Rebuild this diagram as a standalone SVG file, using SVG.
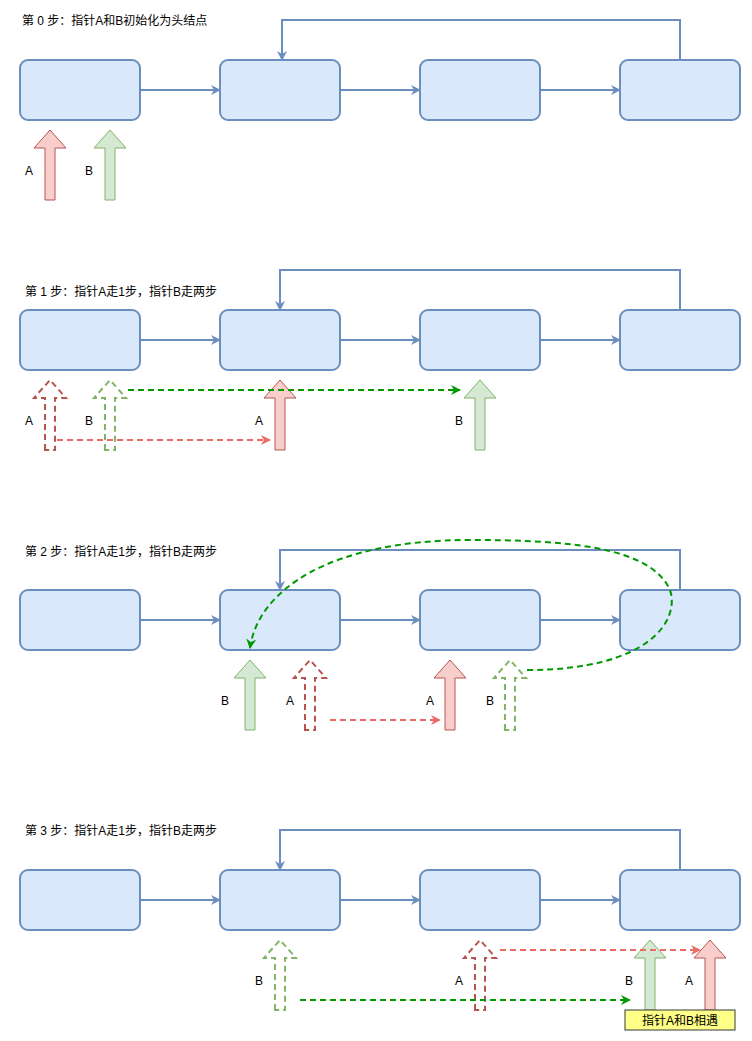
<svg xmlns="http://www.w3.org/2000/svg" xmlns:xlink="http://www.w3.org/1999/xlink" width="752" height="1041" viewBox="0 0 752 1041">
<style>
.n{fill:#dae8fc;stroke:#6c8ebf;stroke-width:2}
.c{fill:none;stroke:#6c8ebf;stroke-width:2}
.t{font-family:"Liberation Sans","Noto Sans CJK SC",sans-serif;font-size:12px;fill:#000}
.ra{fill:#f8cecc;stroke:#b85450;stroke-width:1}
.ga{fill:#d5e8d4;stroke:#82b366;stroke-width:1}
.rd{fill:#fff;stroke:#b85450;stroke-width:2;stroke-dasharray:6 4}
.gd{fill:#fff;stroke:#82b366;stroke-width:2;stroke-dasharray:6 4}
.rl{fill:none;stroke:#ea6b66;stroke-width:2;stroke-dasharray:6 4}
.gl{fill:none;stroke:#009900;stroke-width:2;stroke-dasharray:6 4}
</style>
<defs>
<path id="ba" d="M-5,70 L-5,18 L-16,18 L0,0 L16,18 L5,18 L5,70 Z"/>
<marker id="mb" markerWidth="10" markerHeight="10" refX="9" refY="5" orient="auto" markerUnits="userSpaceOnUse"><path d="M0,0 L10,5 L0,10 L3,5 Z" fill="#6c8ebf"/></marker>
<marker id="mr" markerWidth="10" markerHeight="10" refX="9" refY="5" orient="auto" markerUnits="userSpaceOnUse"><path d="M0,0 L10,5 L0,10 L3,5 Z" fill="#ea6b66"/></marker>
<marker id="mg" markerWidth="10" markerHeight="10" refX="9" refY="5" orient="auto" markerUnits="userSpaceOnUse"><path d="M0,0 L10,5 L0,10 L3,5 Z" fill="#009900"/></marker>
</defs>
<rect width="752" height="1041" fill="#fff"/>
<g id="titles" class="t">
<text x="22" y="25">第 0 步：指针A和B初始化为头结点</text>
<text x="25" y="296">第 1 步：指针A走1步，指针B走两步</text>
<text x="25" y="556">第 2 步：指针A走1步，指针B走两步</text>
<text x="25" y="835">第 3 步：指针A走1步，指针B走两步</text>
</g>
<g id="nodes">
<g id="s0"><rect class="n" x="20" y="60" width="120" height="60" rx="8"/><rect class="n" x="220" y="60" width="120" height="60" rx="8"/><rect class="n" x="420" y="60" width="120" height="60" rx="8"/><rect class="n" x="620" y="60" width="120" height="60" rx="8"/></g>
<g id="s1"><rect class="n" x="20" y="310" width="120" height="60" rx="8"/><rect class="n" x="220" y="310" width="120" height="60" rx="8"/><rect class="n" x="420" y="310" width="120" height="60" rx="8"/><rect class="n" x="620" y="310" width="120" height="60" rx="8"/></g>
<g id="s2"><rect class="n" x="20" y="590" width="120" height="60" rx="8"/><rect class="n" x="220" y="590" width="120" height="60" rx="8"/><rect class="n" x="420" y="590" width="120" height="60" rx="8"/><rect class="n" x="620" y="590" width="120" height="60" rx="8"/></g>
<g id="s3"><rect class="n" x="20" y="870" width="120" height="60" rx="8"/><rect class="n" x="220" y="870" width="120" height="60" rx="8"/><rect class="n" x="420" y="870" width="120" height="60" rx="8"/><rect class="n" x="620" y="870" width="120" height="60" rx="8"/></g>
</g>
<g id="connectors" class="c" marker-end="url(#mb)">
<path d="M140,90 H220"/><path d="M340,90 H420"/><path d="M540,90 H620"/>
<path d="M680,60 V20 H282 V60"/>
<path d="M140,340 H220"/><path d="M340,340 H420"/><path d="M540,340 H620"/>
<path d="M680,310 V270 H280 V310"/>
<path d="M140,620 H220"/><path d="M340,620 H420"/><path d="M540,620 H620"/>
<path d="M680,590 V550 H280 V590"/>
<path d="M140,900 H220"/><path d="M340,900 H420"/><path d="M540,900 H620"/>
<path d="M680,870 V830 H280 V870"/>
</g>
<g id="pointers">
<use xlink:href="#ba" class="ra" transform="translate(50,130)"/>
<use xlink:href="#ba" class="ga" transform="translate(110,130)"/>
<use xlink:href="#ba" class="rd" transform="translate(50,380)"/>
<use xlink:href="#ba" class="gd" transform="translate(110,380)"/>
<use xlink:href="#ba" class="ra" transform="translate(280,380)"/>
<use xlink:href="#ba" class="ga" transform="translate(480,380)"/>
<use xlink:href="#ba" class="ga" transform="translate(250,660)"/>
<use xlink:href="#ba" class="rd" transform="translate(310,660)"/>
<use xlink:href="#ba" class="ra" transform="translate(450,660)"/>
<use xlink:href="#ba" class="gd" transform="translate(510,660)"/>
<use xlink:href="#ba" class="gd" transform="translate(280,940)"/>
<use xlink:href="#ba" class="rd" transform="translate(480,940)"/>
<use xlink:href="#ba" class="ga" transform="translate(650,940)"/>
<use xlink:href="#ba" class="ra" transform="translate(710,940)"/>
</g>
<g id="moves">
<path class="rl" d="M57,440 H270" marker-end="url(#mr)"/>
<path class="gl" d="M128,390 H460" marker-end="url(#mg)"/>
<path class="rl" d="M330,720 H440" marker-end="url(#mr)"/>
<path class="gl" d="M527,670 C650,670 680,620 670,590 C650,545 560,540 470,540 C330,540 258,590 250,648" marker-end="url(#mg)"/>
<path class="rl" d="M500,950 H700" marker-end="url(#mr)"/>
<path class="gl" d="M300,1000 H630" marker-end="url(#mg)"/>
</g>
<g id="labels" class="t">
<text x="25" y="175">A</text><text x="85" y="175">B</text>
<text x="25" y="425">A</text><text x="85" y="425">B</text><text x="255" y="425">A</text><text x="455" y="425">B</text>
<text x="221" y="705">B</text><text x="286" y="705">A</text><text x="426" y="705">A</text><text x="486" y="705">B</text>
<text x="255" y="985">B</text><text x="455" y="985">A</text><text x="625" y="985">B</text><text x="685" y="985">A</text>
</g>
<g id="note">
<rect x="625" y="1010" width="110" height="20" fill="#ffff88" stroke="#36393d"/>
<text class="t" x="680" y="1025" text-anchor="middle">指针A和B相遇</text>
</g>
</svg>
